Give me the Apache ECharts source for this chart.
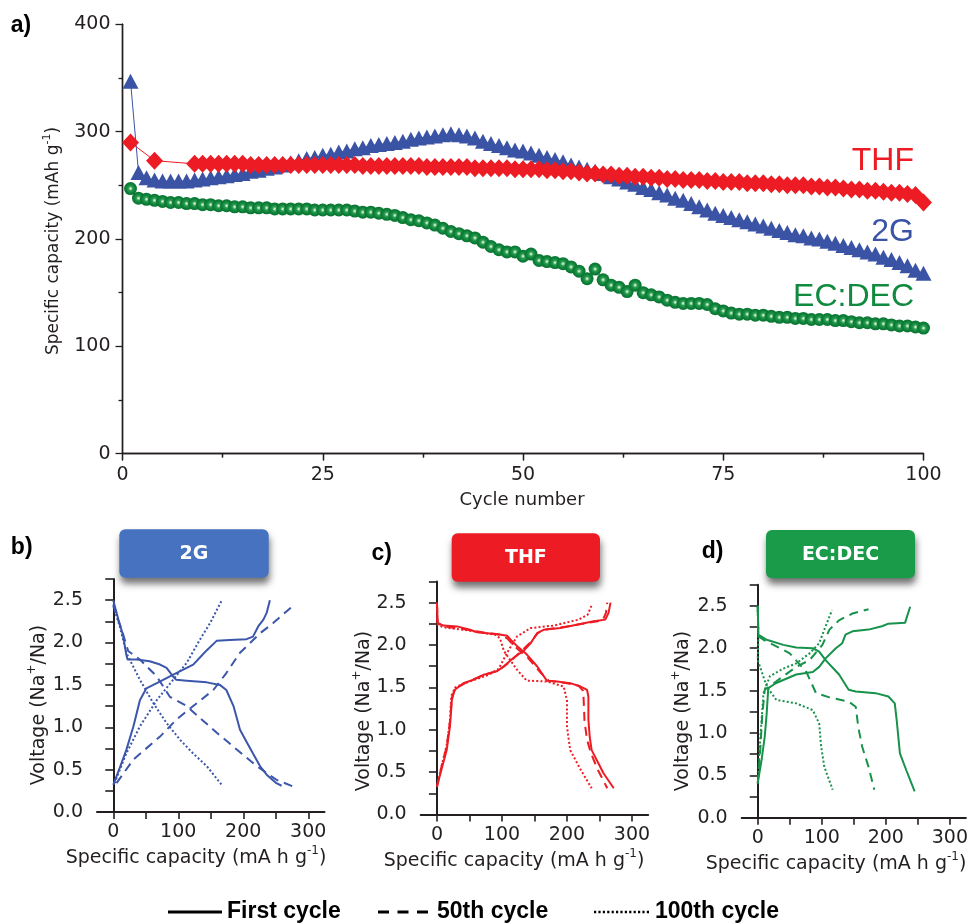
<!DOCTYPE html>
<html>
<head>
<meta charset="utf-8">
<script src="https://cdn.jsdelivr.net/npm/echarts@6/dist/echarts.min.js"></script>
<style>
  html, body { margin: 0; padding: 0; background: #fff; }
  #chart { width: 971px; height: 924px; }
</style>
</head>
<body>
<div id="chart"></div>
<script>
// ---- a) specific capacity per cycle (mAh g-1), cycles 1..100 ----
const capacity2G = [
  347, 262, 257, 255, 254, 254, 254, 254, 255, 256,
  257, 258, 259, 260, 261, 263, 264, 266, 267, 269,
  271, 273, 275, 276, 278, 279, 281, 282, 284, 285,
  287, 288, 289, 290, 291, 293, 294, 295, 296, 297,
  298, 297, 296, 294, 291, 289, 287, 285, 283, 282,
  280, 278, 276, 274, 272, 269, 267, 265, 263, 261,
  258, 256, 253, 251, 248, 246, 243, 241, 238, 236,
  233, 230, 227, 224, 222, 220, 218, 216, 214, 212,
  210, 208, 206, 204, 203, 201, 200, 198, 196, 194,
  192, 190, 188, 186, 183, 181, 178, 175, 171, 168
];
const capacityTHF = [
  290, null, null, 273, null, null, null, null, 270, 270,
  270, 270, 270, 270, 270, 269, 269, 269, 269, 269,
  269, 269, 269, 269, 269, 269, 269, 269, 269, 268,
  268, 268, 268, 268, 268, 268, 268, 267, 267, 267,
  267, 267, 267, 266, 266, 266, 266, 266, 265, 265,
  265, 265, 264, 264, 263, 263, 262, 261, 261, 260,
  260, 259, 259, 258, 258, 257, 257, 256, 256, 255,
  255, 255, 254, 254, 253, 253, 253, 252, 252, 252,
  251, 251, 250, 250, 250, 249, 249, 248, 248, 247,
  246, 246, 245, 245, 244, 243, 243, 242, 241, 234
];
const capacityECDEC = [
  247, 238, 237, 236, 235, 234, 234, 233, 233, 232,
  232, 231, 231, 230, 230, 229, 229, 229, 228, 228,
  228, 228, 228, 227, 227, 227, 227, 227, 226, 225,
  225, 224, 223, 222, 220, 218, 217, 215, 213, 210,
  207, 205, 203, 201, 197, 193, 190, 188, 188, 184,
  186, 180, 179, 178, 177, 174, 170, 163, 172, 162,
  157, 155, 151, 157, 150, 148, 146, 143, 141, 140,
  140, 140, 139, 135, 133, 131, 130, 130, 129, 129,
  128, 127, 127, 126, 126, 125, 125, 125, 124, 124,
  123, 122, 122, 121, 121, 120, 119, 119, 118, 117
];
const xTicksA = [0, 25, 50, 75, 100];
const yTicksA = [0, 100, 200, 300, 400];

// ---- b) 2G voltage profiles: [capacity mA h g-1, voltage V] ----
const g2FirstDis  = [[0,2.5],[8,2.27],[15,2.09],[20,1.86],[22,1.8],[36,1.8],[56,1.78],[72,1.74],[82,1.7],[92,1.6],[97,1.56],[113,1.55],[144,1.53],[164,1.5],[174,1.44],[185,1.25],[195,0.97],[205,0.83],[215,0.69],[226,0.54],[236,0.44],[251,0.34],[259,0.31]];
const g2FirstChg  = [[0,0.32],[10,0.52],[20,0.73],[31,1.01],[41,1.32],[51,1.46],[67,1.52],[82,1.58],[97,1.64],[113,1.7],[123,1.74],[133,1.82],[144,1.91],[159,2.02],[179,2.03],[205,2.04],[215,2.07],[223,2.19],[231,2.27],[236,2.35],[241,2.5]];
const g2FiftyDis  = [[0,2.45],[6,2.3],[13,2.15],[23,1.9],[41,1.8],[67,1.6],[87,1.36],[113,1.25],[154,0.97],[185,0.77],[221,0.54],[251,0.38],[277,0.3]];
const g2FiftyChg  = [[5,0.34],[31,0.62],[72,0.89],[97,1.09],[123,1.25],[154,1.44],[174,1.64],[195,1.88],[226,2.11],[246,2.23],[276,2.43]];
const g2HundDis   = [[0,2.43],[10,2.19],[20,1.88],[41,1.56],[62,1.28],[82,1.05],[103,0.85],[123,0.69],[144,0.54],[167,0.32]];
const g2HundChg   = [[2,0.34],[20,0.69],[41,1.01],[67,1.32],[92,1.56],[113,1.76],[133,2.03],[149,2.23],[167,2.5]];

// ---- c) THF voltage profiles ----
const thfFirstDis = [[0,2.5],[1,2.26],[10,2.23],[31,2.22],[51,2.18],[62,2.15],[77,2.14],[92,2.13],[108,2.11],[115,2.05],[123,1.99],[138,1.89],[154,1.75],[169,1.58],[185,1.57],[205,1.55],[221,1.51],[231,1.47],[233,1.39],[233,1.12],[235,0.92],[238,0.76],[246,0.64],[256,0.49],[272,0.31]];
const thfFirstChg = [[0,0.33],[8,0.56],[15,0.76],[20,1.04],[23,1.35],[27,1.47],[41,1.55],[56,1.59],[72,1.65],[92,1.69],[103,1.75],[118,1.85],[133,1.93],[144,2.02],[154,2.14],[164,2.18],[190,2.2],[215,2.24],[241,2.28],[259,2.3],[264,2.38],[267,2.5]];
const thfFiftyDis = [[0,2.5],[1,2.26],[10,2.22],[40,2.19],[70,2.15],[97,2.12],[108,2.08],[120,1.98],[140,1.85],[160,1.67],[172,1.58],[200,1.55],[218,1.52],[225,1.46],[226,1.3],[227,1.1],[231,0.88],[237,0.72],[248,0.52],[262,0.31]];
const thfFiftyChg = [[0,0.33],[8,0.6],[15,0.8],[20,1.1],[23,1.38],[28,1.48],[45,1.56],[70,1.64],[95,1.7],[112,1.8],[130,1.93],[145,2.04],[155,2.14],[165,2.18],[200,2.22],[230,2.26],[255,2.29],[260,2.38],[262,2.5]];
const thfHundDis  = [[0,2.5],[1,2.24],[10,2.21],[50,2.17],[90,2.12],[97,2.08],[103,1.93],[123,1.71],[138,1.58],[169,1.57],[195,1.51],[200,1.35],[200,1.04],[205,0.76],[221,0.53],[238,0.31]];
const thfHundChg  = [[0,0.33],[8,0.6],[15,0.82],[20,1.1],[22,1.4],[28,1.5],[50,1.57],[80,1.65],[95,1.72],[108,1.91],[123,2.1],[144,2.2],[180,2.23],[218,2.3],[232,2.36],[238,2.47]];

// ---- d) EC:DEC voltage profiles ----
const ecFirstDis  = [[0,2.5],[1,2.16],[14,2.1],[40,2.04],[60,2.01],[86,2.0],[96,1.96],[106,1.86],[127,1.69],[142,1.51],[153,1.49],[184,1.47],[204,1.43],[214,1.35],[217,1.15],[222,0.76],[232,0.56],[245,0.31]];
const ecFirstChg  = [[0,0.41],[6,0.68],[11,0.96],[14,1.23],[16.5,1.53],[29,1.59],[60,1.69],[86,1.72],[96,1.78],[106,1.88],[122,2.0],[132,2.06],[137,2.16],[148,2.2],[173,2.22],[194,2.26],[204,2.29],[230,2.3],[238,2.49]];
const ecFiftyDis  = [[0,2.5],[1,2.14],[9,2.1],[50,1.94],[76,1.72],[91,1.47],[112,1.42],[142,1.37],[153,1.31],[157,1.07],[163,0.84],[173,0.6],[182,0.33]];
const ecFiftyChg  = [[0,0.4],[4,0.8],[7,1.2],[11,1.51],[40,1.67],[60,1.78],[81,1.86],[101,2.04],[112,2.22],[127,2.33],[148,2.41],[173,2.46]];
const ecHundDis   = [[0,2.5],[1,2.1],[0,1.86],[14,1.55],[29,1.39],[60,1.35],[86,1.27],[96,1.11],[99,0.84],[104,0.6],[117,0.33]];
const ecHundChg   = [[1,0.48],[2.5,0.76],[6,1.15],[9,1.47],[19,1.67],[40,1.76],[60,1.82],[81,1.94],[96,2.06],[106,2.26],[116,2.45]];

const capTicks = [0, 50, 100, 150, 200, 250, 300];
const capLabels = [0, 100, 200, 300];
const voltTicks = [0, 0.25, 0.5, 0.75, 1, 1.25, 1.5, 1.75, 2, 2.25, 2.5, 2.75];
const voltLabels = [0, 0.5, 1, 1.5, 2, 2.5];

// ---- styling ----
const FONT = "'DejaVu Sans', sans-serif";
const ARIAL = "'Liberation Sans', Arial, sans-serif";
const INK = '#231f20';
const BLUE = '#3a53a4';
const RED = '#ed1c24';
const GREEN = '#0f8a3e';
const PANEL_BLUE = '#3b56aa';
const PANEL_GREEN = '#17924a';

// glossy green bead for the EC:DEC markers
const sphere = new echarts.graphic.RadialGradient(0.5, 0.5, 0.5, [
  { offset: 0, color: '#eefbee' },
  { offset: 0.14, color: '#a6dbae' },
  { offset: 0.34, color: '#2a9d52' },
  { offset: 0.7, color: '#0e8139' },
  { offset: 1, color: '#0a7332' }
]);

const chart = echarts.init(document.getElementById('chart'), null, { renderer: 'canvas' });

// grid 0 = cycling plot, grids 1..3 = voltage profile panels
const panelGrids = [
  { left: 97, top: 579, width: 227.5, height: 233 },
  { left: 420.7, top: 581.5, width: 227.5, height: 233 },
  { left: 741.7, top: 584.7, width: 227.5, height: 233 }
];

function panelXAxis(gi) {
  return {
    gridIndex: gi, type: 'value', min: -25, max: 325,
    axisLine: { lineStyle: { color: INK, width: 2 } },
    axisTick: { customValues: capTicks, length: 7, lineStyle: { color: INK, width: 1.6 } },
    axisLabel: { customValues: capLabels, margin: 11, fontSize: 19, color: INK, fontFamily: FONT },
    splitLine: { show: false }
  };
}
function panelYAxis(gi) {
  return {
    gridIndex: gi, type: 'value', min: 0, max: 2.75,
    axisLine: { lineStyle: { color: INK, width: 2 } },
    axisTick: { customValues: voltTicks, length: 8, lineStyle: { color: INK, width: 1.6 } },
    axisLabel: { customValues: voltLabels, margin: 14, fontSize: 19, color: INK, fontFamily: FONT,
                 formatter: v => Number(v).toFixed(1) },
    splitLine: { show: false }
  };
}
// axis index of a panel: xAxis/yAxis 0 and 1 belong to the cycling plot
function profile(data, axisIdx, color, dash, width) {
  return {
    type: 'line', xAxisIndex: axisIdx, yAxisIndex: axisIdx, data: data,
    showSymbol: false, symbol: 'none', clip: false, silent: true,
    lineStyle: { color: color, width: width, type: dash }
  };
}
const SOLID = 'solid', DASH = [9, 6], DOT = [2, 2.2];

const panelSeries = [];
[[g2FirstDis, g2FirstChg, g2FiftyDis, g2FiftyChg, g2HundDis, g2HundChg, PANEL_BLUE, 2],
 [thfFirstDis, thfFirstChg, thfFiftyDis, thfFiftyChg, thfHundDis, thfHundChg, RED, 3],
 [ecFirstDis, ecFirstChg, ecFiftyDis, ecFiftyChg, ecHundDis, ecHundChg, PANEL_GREEN, 4]
].forEach(p => {
  const c = p[6], ai = p[7];
  panelSeries.push(profile(p[0], ai, c, SOLID, 2));
  panelSeries.push(profile(p[1], ai, c, SOLID, 2));
  panelSeries.push(profile(p[2], ai, c, DASH, 2));
  panelSeries.push(profile(p[3], ai, c, DASH, 2));
  panelSeries.push(profile(p[4], ai, c, DOT, 2));
  panelSeries.push(profile(p[5], ai, c, DOT, 2));
});

const toPoints = arr => arr.map((v, i) => [i + 1, v]);

function txt(x, y, text, font, fill, align, extra) {
  return Object.assign({
    type: 'text', x: x, y: y, z: 10,
    style: { text: text, font: font, fill: fill, align: align || 'center', verticalAlign: 'middle' }
  }, extra || {});
}
function richTitle(x, y, main1, sup, main2, size, rotate) {
  return {
    type: 'text', x: x, y: y, z: 10, rotation: rotate ? Math.PI / 2 : 0,
    style: {
      text: '{n|' + main1 + '}{s|' + sup + '}{n|' + main2 + '}',
      align: 'center', verticalAlign: 'middle',
      rich: {
        n: { fontSize: size, fontFamily: FONT, fill: INK, lineHeight: size + 4, verticalAlign: 'bottom' },
        s: { fontSize: Math.round(size * 0.62), fontFamily: FONT, fill: INK, verticalAlign: 'top', lineHeight: size + 4 }
      }
    }
  };
}
function labelBox(x, y, w, h, fill, text) {
  return [
    { type: 'rect', z: 5, shape: { x: x, y: y, width: w, height: h, r: 6 },
      style: { fill: fill, shadowBlur: 7, shadowOffsetX: 1, shadowOffsetY: 6, shadowColor: 'rgba(0,0,0,0.55)' } },
    txt(x + w / 2, y + h / 2 + 0.5, text, 'bold 19px ' + FONT, '#ffffff')
  ];
}

const graphics = [].concat(
  [
    txt(21, 26, 'a)', 'bold 23px ' + ARIAL, '#000'),
    txt(21.7, 548, 'b)', 'bold 23px ' + ARIAL, '#000'),
    txt(381.7, 554, 'c)', 'bold 23px ' + ARIAL, '#000'),
    txt(712.5, 552, 'd)', 'bold 23px ' + ARIAL, '#000'),
    txt(914, 161, 'THF', '32px ' + ARIAL, RED, 'right'),
    txt(914, 232, '2G', '32px ' + ARIAL, BLUE, 'right'),
    txt(914, 297, 'EC:DEC', '32px ' + ARIAL, GREEN, 'right'),
    txt(522, 500, 'Cycle number', '18px ' + FONT, INK),
    richTitle(52, 241, 'Specific capacity (mAh g', '-1', ')', 17, true),
    richTitle(196, 856, 'Specific capacity (mA h g', '-1', ')', 19, false),
    richTitle(514, 859, 'Specific capacity (mA h g', '-1', ')', 19, false),
    richTitle(836, 862, 'Specific capacity (mA h g', '-1', ')', 19, false),
    richTitle(37, 705, 'Voltage (Na', '+', '/Na)', 19, true),
    richTitle(362.5, 711, 'Voltage (Na', '+', '/Na)', 19, true),
    richTitle(681, 711, 'Voltage (Na', '+', '/Na)', 19, true)
  ],
  labelBox(119.3, 529.3, 149.4, 48.4, '#4672c0', '2G'),
  labelBox(451.7, 533.3, 148.3, 48.4, RED, 'THF'),
  labelBox(766, 530, 149, 48.3, '#199b4a', 'EC:DEC'),
  [
    { type: 'line', z: 10, shape: { x1: 168, y1: 912, x2: 222, y2: 912 }, style: { stroke: '#000', lineWidth: 3 } },
    txt(227, 912, 'First cycle', 'bold 23px ' + ARIAL, '#000', 'left'),
    { type: 'line', z: 10, shape: { x1: 378, y1: 912, x2: 432, y2: 912 }, style: { stroke: '#000', lineWidth: 3, lineDash: [11, 8.5] } },
    txt(437, 912, '50th cycle', 'bold 23px ' + ARIAL, '#000', 'left'),
    { type: 'line', z: 10, shape: { x1: 594, y1: 912, x2: 650, y2: 912 }, style: { stroke: '#000', lineWidth: 2.4, lineDash: [2.2, 2.2] } },
    txt(655, 912, '100th cycle', 'bold 23px ' + ARIAL, '#000', 'left')
  ]
);

const option = {
  animation: false,
  backgroundColor: '#ffffff',
  textStyle: { fontFamily: FONT },
  grid: [{ left: 122.5, top: 24.3, width: 801, height: 429.4 }].concat(panelGrids),
  xAxis: [
    { gridIndex: 0, type: 'value', min: xTicksA[0], max: xTicksA[xTicksA.length - 1], interval: 25, position: 'bottom',
      axisLine: { lineStyle: { color: INK, width: 1.4 } },
      axisTick: { length: 7, lineStyle: { color: INK, width: 1.3 } },
      minorTick: { show: true, splitNumber: 2, length: 4, lineStyle: { color: INK, width: 1.3 } },
      axisLabel: { margin: 12, fontSize: 19, color: INK, fontFamily: FONT },
      splitLine: { show: false }, minorSplitLine: { show: false } },
    { gridIndex: 0, type: 'value', min: 0, max: 100, interval: 25, position: 'top',
      axisLine: { lineStyle: { color: INK, width: 1.4 } },
      axisTick: { inside: true, length: 6, lineStyle: { color: INK, width: 1.3 } },
      minorTick: { show: true, splitNumber: 2, length: 3.5, lineStyle: { color: INK, width: 1.3 } },
      axisLabel: { show: false }, splitLine: { show: false } },
    panelXAxis(1), panelXAxis(2), panelXAxis(3)
  ],
  yAxis: [
    { gridIndex: 0, type: 'value', min: yTicksA[0], max: yTicksA[yTicksA.length - 1], interval: 100, position: 'left',
      axisLine: { show: true, lineStyle: { color: INK, width: 1.4 } },
      axisTick: { show: true, length: 7, lineStyle: { color: INK, width: 1.3 } },
      minorTick: { show: true, splitNumber: 2, length: 4, lineStyle: { color: INK, width: 1.3 } },
      axisLabel: { margin: 12, fontSize: 19, color: INK, fontFamily: FONT },
      splitLine: { show: false } },
    { gridIndex: 0, type: 'value', min: 0, max: 400, position: 'right',
      axisLine: { show: true, lineStyle: { color: INK, width: 1.4 } },
      axisTick: { show: false }, axisLabel: { show: false }, splitLine: { show: false } },
    panelYAxis(1), panelYAxis(2), panelYAxis(3)
  ],
  series: [
    { name: '2G', type: 'line', xAxisIndex: 0, yAxisIndex: 0, data: toPoints(capacity2G),
      symbol: 'triangle', symbolSize: [16, 15], showSymbol: true, silent: true, z: 2,
      itemStyle: { color: BLUE }, lineStyle: { color: BLUE, width: 1 } },
    { name: 'THF', type: 'line', xAxisIndex: 0, yAxisIndex: 0, data: toPoints(capacityTHF),
      connectNulls: true, symbol: 'diamond', symbolSize: [17, 18], showSymbol: true, silent: true, z: 3,
      itemStyle: { color: RED }, lineStyle: { color: RED, width: 1 } },
    { name: 'EC:DEC', type: 'line', xAxisIndex: 0, yAxisIndex: 0, data: toPoints(capacityECDEC),
      symbol: 'circle', symbolSize: 13, showSymbol: true, silent: true, z: 4,
      itemStyle: { color: sphere }, lineStyle: { color: GREEN, width: 1 } }
  ].concat(panelSeries),
  graphic: graphics
};

chart.setOption(option);
</script>
</body>
</html>
